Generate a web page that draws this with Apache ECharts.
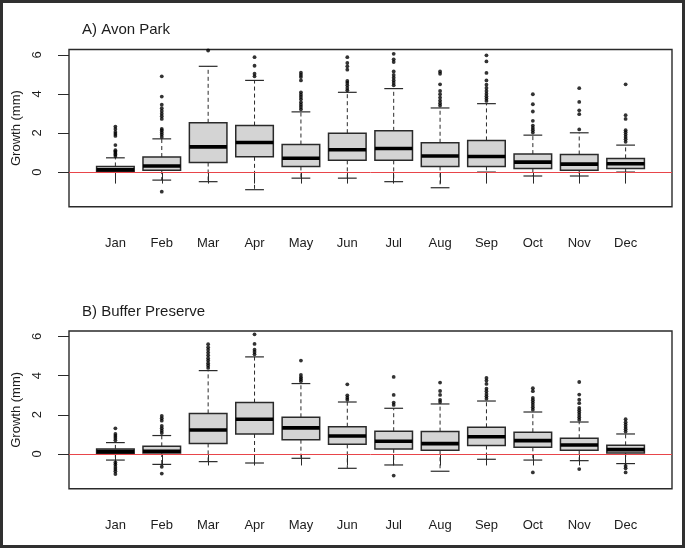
<!DOCTYPE html>
<html><head><meta charset="utf-8">
<script src="https://cdn.jsdelivr.net/npm/echarts@6/dist/echarts.min.js"></script>
<style>html,body{margin:0;padding:0;background:#fff}#c{width:685px;height:548px}</style>
</head><body><div id="c"></div>
<script>
const months = ['Jan','Feb','Mar','Apr','May','Jun','Jul','Aug','Sep','Oct','Nov','Dec'];
const yTicks = [0, 2, 4, 6];
const titles = ['A) Avon Park', 'B) Buffer Preserve'];
const yName = 'Growth (mm)';

// Panel A: Avon Park
const lowA  = [0.00, -0.41, -0.49, -0.90, -0.31, -0.31, -0.49, -0.80, 0.00, -0.20, -0.20, 0.00];
const q1A   = [0.02, 0.10, 0.49, 0.78, 0.29, 0.60, 0.60, 0.29, 0.29, 0.19, 0.10, 0.19];
const medA  = [0.12, 0.31, 1.29, 1.51, 0.71, 1.14, 1.21, 0.82, 0.80, 0.51, 0.41, 0.43];
const q3A   = [0.29, 0.77, 2.52, 2.38, 1.41, 1.99, 2.11, 1.50, 1.62, 0.92, 0.90, 0.70];
const highA = [0.73, 1.70, 5.41, 4.69, 3.08, 4.08, 4.27, 3.28, 3.50, 1.89, 2.01, 1.38];
const outA = [
  [0.82, 0.90, 0.98, 1.05, 1.12, 1.38, 1.85, 1.95, 2.05, 2.20, 2.33],
  [-1.00, 1.80, 1.92, 2.02, 2.13, 2.21, 2.72, 2.86, 2.99, 3.13, 3.27, 3.45, 3.86, 4.90],
  [6.22],
  [4.90, 5.03, 5.44, 5.88],
  [3.21, 3.33, 3.45, 3.57, 3.72, 3.84, 3.96, 4.08, 4.69, 4.86, 4.97, 5.08],
  [4.18, 4.30, 4.44, 4.56, 4.66, 5.24, 5.41, 5.58, 5.88],
  [4.44, 4.56, 4.69, 4.83, 4.97, 5.15, 5.63, 5.77, 6.05],
  [3.40, 3.52, 3.66, 3.81, 3.98, 4.15, 4.49, 5.03, 5.15],
  [3.64, 3.76, 3.88, 4.01, 4.15, 4.30, 4.47, 4.69, 5.07, 5.66, 5.97],
  [2.02, 2.14, 2.26, 2.38, 2.62, 3.10, 3.47, 3.98],
  [2.18, 2.96, 3.16, 3.59, 4.29],
  [1.55, 1.68, 1.80, 1.92, 2.04, 2.14, 2.72, 2.91, 4.49]
];

// Panel B: Buffer Preserve
const lowB  = [-0.31, -0.53, -0.39, -0.46, -0.22, -0.73, -0.56, -0.88, -0.27, -0.31, -0.34, -0.49];
const q1B   = [0.02, 0.05, 0.54, 1.02, 0.73, 0.49, 0.26, 0.19, 0.43, 0.34, 0.19, 0.05];
const medB  = [0.12, 0.14, 1.22, 1.77, 1.33, 0.92, 0.65, 0.53, 0.88, 0.68, 0.46, 0.22];
const q3B   = [0.26, 0.39, 2.07, 2.62, 1.87, 1.39, 1.16, 1.14, 1.36, 1.11, 0.80, 0.44];
const highB = [0.58, 0.94, 4.25, 4.95, 3.59, 2.65, 2.33, 2.55, 2.70, 2.14, 1.63, 1.02];
const outB = [
  [0.70, 0.82, 0.92, 1.02, 1.31, -0.43, -0.54, -0.66, -0.77, -0.88, -1.02],
  [1.07, 1.19, 1.31, 1.43, 1.70, 1.82, 1.94, -0.65, -1.00],
  [4.39, 4.51, 4.63, 4.76, 4.88, 5.03, 5.17, 5.31, 5.44, 5.60],
  [5.08, 5.20, 5.32, 5.61, 6.10],
  [3.71, 3.81, 3.91, 4.03, 4.76],
  [2.77, 2.87, 2.99, 3.55],
  [2.50, 2.62, 3.01, 3.93, -1.10],
  [2.65, 2.76, 3.01, 3.21, 3.64],
  [2.82, 2.94, 3.06, 3.20, 3.33, 3.57, 3.74, 3.88],
  [2.26, 2.38, 2.50, 2.62, 2.74, 2.86, 3.20, 3.35, -0.94],
  [1.75, 1.87, 1.99, 2.11, 2.23, 2.35, 2.59, 2.77, 3.03, 3.67, -0.77],
  [1.14, 1.26, 1.38, 1.50, 1.62, 1.77, -0.61, -0.73, -0.94]
];

const FONT = 'Liberation Sans, Arial, Helvetica, sans-serif';
const TXT = '#1c1c1c';
const LINE = '#2a2a2a';

function boxData(lo, q1, md, q3, hi) {
  return months.map((m, i) => [i + 1, lo[i], q1[i], md[i], q3[i], hi[i]]);
}
function outData(out) {
  const d = [];
  out.forEach((arr, i) => arr.forEach(v => d.push([i + 1, v])));
  return d;
}

function renderBox(params, api) {
  const x = api.value(0);
  const pLo = api.coord([x, api.value(1)]);
  const pQ1 = api.coord([x, api.value(2)]);
  const pMd = api.coord([x, api.value(3)]);
  const pQ3 = api.coord([x, api.value(4)]);
  const pHi = api.coord([x, api.value(5)]);
  const bw = api.size([0.81, 0])[0];
  const sw = bw / 2;
  const cx = pMd[0];
  const dash = { stroke: LINE, lineWidth: 1, lineDash: [4, 3], fill: null };
  const solid = { stroke: LINE, lineWidth: 1.2, fill: null };
  return {
    type: 'group',
    children: [
      { type: 'line', shape: { x1: cx, y1: pQ3[1], x2: cx, y2: pHi[1] }, style: dash },
      { type: 'line', shape: { x1: cx, y1: pQ1[1], x2: cx, y2: pLo[1] }, style: dash },
      { type: 'line', shape: { x1: cx - sw / 2, y1: pHi[1], x2: cx + sw / 2, y2: pHi[1] }, style: solid },
      { type: 'line', shape: { x1: cx - sw / 2, y1: pLo[1], x2: cx + sw / 2, y2: pLo[1] }, style: solid },
      { type: 'rect', shape: { x: cx - bw / 2, y: pQ3[1], width: bw, height: pQ1[1] - pQ3[1] },
        style: { fill: '#d4d4d4', stroke: LINE, lineWidth: 1.5 } },
      { type: 'line', shape: { x1: cx - bw / 2, y1: pMd[1], x2: cx + bw / 2, y2: pMd[1] },
        style: { stroke: '#000', lineWidth: 3.6 } }
    ]
  };
}

const grids = [
  { left: 69, top: 49.5, width: 603, height: 157.2 },
  { left: 69, top: 331, width: 603, height: 157.7 }
];

const option = {
  backgroundColor: '#fff',
  animation: false,
  textStyle: { fontFamily: FONT },
  title: titles.map((t, i) => ({
    text: t, left: 82, top: i === 0 ? 22.5 : 304, padding: 0,
    textStyle: { fontSize: 15, fontWeight: 'normal', color: TXT, fontFamily: FONT }
  })),
  graphic: [{
    type: 'rect', shape: { x: 1.5, y: 1.5, width: 682, height: 545 },
    style: { fill: null, stroke: '#303030', lineWidth: 3 }, z: 100
  }],
  grid: grids.map(g => Object.assign({ show: true, borderColor: LINE, borderWidth: 1.4, backgroundColor: 'transparent' }, g)),
  xAxis: grids.map((g, i) => ({
    type: 'value', gridIndex: i, min: 0, max: 13,
    axisLine: { show: false },
    splitLine: { show: false },
    axisTick: { show: true, length: 11.5, customValues: months.map((m, k) => k + 1), lineStyle: { color: LINE, width: 1 } },
    axisLabel: { customValues: months.map((m, k) => k + 1), formatter: v => months[Math.round(v) - 1] || '',
      margin: 30, fontSize: 13, color: TXT, fontFamily: FONT }
  })),
  yAxis: grids.map((g, i) => ({
    type: 'value', gridIndex: i, min: -1.77, max: 6.27,
    name: yName, nameLocation: 'middle', nameGap: 43,
    nameTextStyle: { fontSize: 13, color: TXT, fontFamily: FONT },
    axisLine: { show: false },
    splitLine: { show: false },
    axisTick: { show: true, length: 11, customValues: yTicks, lineStyle: { color: LINE, width: 1 } },
    axisLabel: { customValues: yTicks, rotate: 90, margin: 25, fontSize: 13, color: TXT, fontFamily: FONT }
  })),
  series: [
    { type: 'custom', xAxisIndex: 0, yAxisIndex: 0, renderItem: renderBox,
      encode: { x: 0, y: [1, 2, 3, 4, 5] }, data: boxData(lowA, q1A, medA, q3A, highA), z: 2 },
    { type: 'custom', xAxisIndex: 1, yAxisIndex: 1, renderItem: renderBox,
      encode: { x: 0, y: [1, 2, 3, 4, 5] }, data: boxData(lowB, q1B, medB, q3B, highB), z: 2 },
    { type: 'scatter', xAxisIndex: 0, yAxisIndex: 0, data: outData(outA), symbolSize: 3.8,
      itemStyle: { color: '#000' }, z: 3,
      markLine: { silent: true, symbol: 'none', label: { show: false },
        lineStyle: { color: '#e8454a', width: 1, type: 'solid' }, data: [{ yAxis: 0 }] } },
    { type: 'scatter', xAxisIndex: 1, yAxisIndex: 1, data: outData(outB), symbolSize: 3.8,
      itemStyle: { color: '#000' }, z: 3,
      markLine: { silent: true, symbol: 'none', label: { show: false },
        lineStyle: { color: '#e8454a', width: 1, type: 'solid' }, data: [{ yAxis: 0 }] } }
  ]
};

const chart = echarts.init(document.getElementById('c'), null, { renderer: 'canvas' });
chart.setOption(option);
</script>
</body></html>
